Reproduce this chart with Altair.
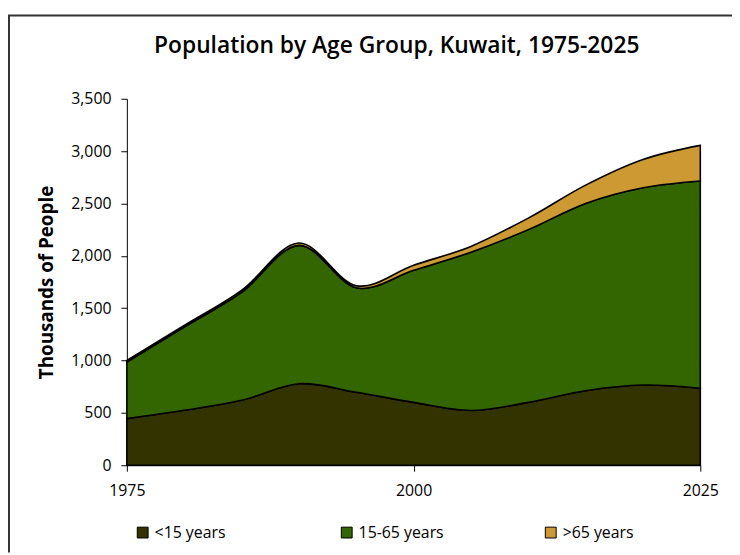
import altair as alt
import pandas as pd

years = [1975, 1980, 1985, 1990, 1995, 2000, 2005, 2010, 2015, 2020, 2025]
under15 = [445, 525, 620, 778, 697, 600, 523, 600, 712, 766, 735]
age15_65 = [540, 795, 1030, 1322, 998, 1262, 1512, 1650, 1788, 1884, 1980]
over65 = [15, 15, 20, 22, 20, 48, 55, 110, 175, 270, 340]
groups = ["<15 years", "15-65 years", ">65 years"]
colors = ["#333300", "#336600", "#CC9933"]
x_ticks = [1975, 2000, 2025]
y_ticks = [0, 500, 1000, 1500, 2000, 2500, 3000, 3500]

rows = []
for i, yr in enumerate(years):
    for k, (g, vals) in enumerate(zip(groups, [under15, age15_65, over65])):
        rows.append({"year": yr, "group": g, "value": vals[i], "order": k})
df = pd.DataFrame(rows)

FONT = "Open Sans"
W, H = 579, 370
PAD = {"left": 120, "top": 89, "right": 32, "bottom": 88}

area = alt.Chart(df).mark_area(
    interpolate="cardinal", stroke="black", strokeWidth=1.6
).encode(
    x=alt.X("year:Q",
            scale=alt.Scale(domain=[1975, 2025], nice=False, zero=False),
            axis=alt.Axis(values=x_ticks, format="d", title=None,
                          labelFont=FONT, labelFontSize=16, labelColor="black",
                          labelPadding=12, tickSize=6, tickColor="black",
                          domainColor="black", grid=False, labelFlush=False)),
    y=alt.Y("value:Q", stack="zero",
            scale=alt.Scale(domain=[0, 3500], nice=False),
            axis=alt.Axis(values=y_ticks, format=",.0f", title="Thousands of People",
                          labelFont=FONT, labelFontSize=16, labelColor="black",
                          labelPadding=10, tickSize=6, tickColor="black",
                          domainColor="black", grid=False,
                          titleFont=FONT, titleFontSize=19, titleFontWeight="bold",
                          titleColor="black", titlePadding=14)),
    color=alt.Color("group:N",
                    scale=alt.Scale(domain=groups, range=colors),
                    legend=alt.Legend(title=None, orient="none", direction="horizontal",
                                      legendX=8, legendY=430, columns=3,
                                      gridAlign="all", columnPadding=100,
                                      symbolType="square", symbolSize=120,
                                      symbolStrokeColor="black", symbolStrokeWidth=1,
                                      labelFont=FONT, labelFontSize=16,
                                      labelColor="black", labelOffset=4)),
    order=alt.Order("order:Q"),
)

frame_df = pd.DataFrame({"k": [0]})
frame_top = alt.Chart(frame_df).mark_rule(color="#333333", strokeWidth=2).encode(
    x=alt.value(-120), x2=alt.value(W + PAD["right"]), y=alt.value(-84)
)
frame_left = alt.Chart(frame_df).mark_rule(color="#333333", strokeWidth=2).encode(
    x=alt.value(-119), y=alt.value(-84), y2=alt.value(H + PAD["bottom"])
)

chart = alt.layer(area, frame_top, frame_left).properties(
    width=W, height=H,
    autosize=alt.AutoSizeParams(type="none"),
    padding=PAD,
    title=alt.TitleParams("Population by Age Group, Kuwait, 1975-2025",
                          font=FONT, fontSize=23, fontWeight=600,
                          color="black", anchor="middle", dx=-17, offset=0, dy=44),
).configure(background="white").configure_view(stroke=None, strokeWidth=0)

chart.save("out.html", embed_options={"renderer": "svg", "actions": False})
